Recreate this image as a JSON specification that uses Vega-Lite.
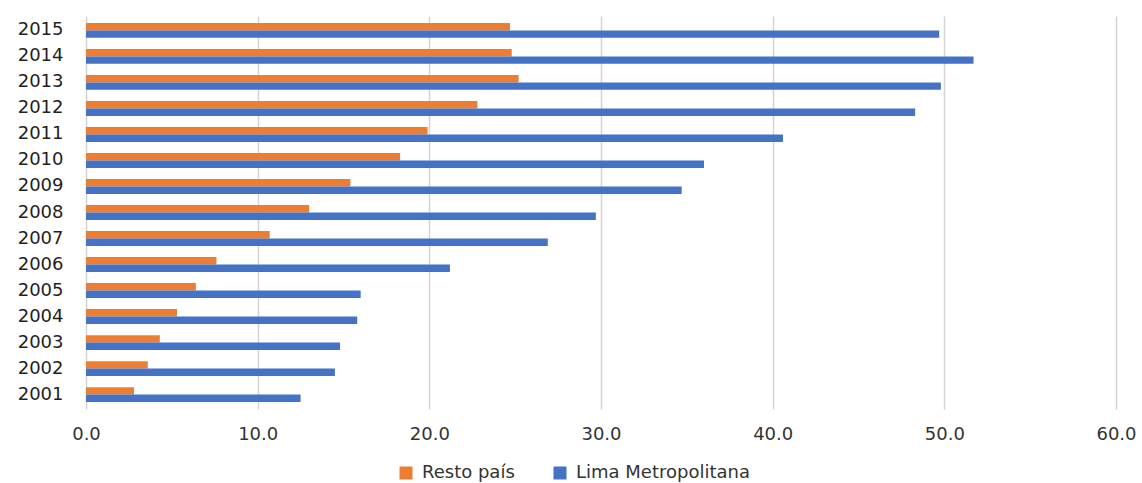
{
  "$schema": "https://vega.github.io/schema/vega-lite/v6.json",
  "autosize": "none",
  "width": 1030,
  "height": 393,
  "padding": {"left": 86, "top": 16, "right": 26, "bottom": 74},
  "background": "white",
  "config": {
    "view": {"stroke": null},
    "font": "DejaVu Sans"
  },
  "data": {
    "values": [
      {"anio": 2001, "serie": "Resto país", "valor": 2.8},
      {"anio": 2002, "serie": "Resto país", "valor": 3.6},
      {"anio": 2003, "serie": "Resto país", "valor": 4.3},
      {"anio": 2004, "serie": "Resto país", "valor": 5.3},
      {"anio": 2005, "serie": "Resto país", "valor": 6.4},
      {"anio": 2006, "serie": "Resto país", "valor": 7.6},
      {"anio": 2007, "serie": "Resto país", "valor": 10.7},
      {"anio": 2008, "serie": "Resto país", "valor": 13.0},
      {"anio": 2009, "serie": "Resto país", "valor": 15.4},
      {"anio": 2010, "serie": "Resto país", "valor": 18.3},
      {"anio": 2011, "serie": "Resto país", "valor": 19.9},
      {"anio": 2012, "serie": "Resto país", "valor": 22.8},
      {"anio": 2013, "serie": "Resto país", "valor": 25.2},
      {"anio": 2014, "serie": "Resto país", "valor": 24.8},
      {"anio": 2015, "serie": "Resto país", "valor": 24.7},
      {"anio": 2001, "serie": "Lima Metropolitana", "valor": 12.5},
      {"anio": 2002, "serie": "Lima Metropolitana", "valor": 14.5},
      {"anio": 2003, "serie": "Lima Metropolitana", "valor": 14.8},
      {"anio": 2004, "serie": "Lima Metropolitana", "valor": 15.8},
      {"anio": 2005, "serie": "Lima Metropolitana", "valor": 16.0},
      {"anio": 2006, "serie": "Lima Metropolitana", "valor": 21.2},
      {"anio": 2007, "serie": "Lima Metropolitana", "valor": 26.9},
      {"anio": 2008, "serie": "Lima Metropolitana", "valor": 29.7},
      {"anio": 2009, "serie": "Lima Metropolitana", "valor": 34.7},
      {"anio": 2010, "serie": "Lima Metropolitana", "valor": 36.0},
      {"anio": 2011, "serie": "Lima Metropolitana", "valor": 40.6},
      {"anio": 2012, "serie": "Lima Metropolitana", "valor": 48.3},
      {"anio": 2013, "serie": "Lima Metropolitana", "valor": 49.8},
      {"anio": 2014, "serie": "Lima Metropolitana", "valor": 51.7},
      {"anio": 2015, "serie": "Lima Metropolitana", "valor": 49.7}
    ]
  },
  "mark": {"type": "bar"},
  "encoding": {
    "y": {
      "field": "anio",
      "type": "ordinal",
      "sort": "descending",
      "scale": {"paddingInner": 0.43, "paddingOuter": 0.27},
      "axis": {
        "title": null,
        "domain": false,
        "ticks": false,
        "grid": false,
        "labelFont": "DejaVu Sans",
        "labelFontSize": 18,
        "labelColor": "#1f1f1f",
        "labelPadding": 23
      }
    },
    "x": {
      "field": "valor",
      "type": "quantitative",
      "scale": {"domain": [0, 60], "nice": false},
      "axis": {
        "title": null,
        "values": [0, 10, 20, 30, 40, 50, 60],
        "format": ".1f",
        "domain": false,
        "ticks": false,
        "grid": true,
        "gridColor": "#d4d4d4",
        "gridWidth": 1.5,
        "labelFont": "DejaVu Sans",
        "labelFontSize": 18,
        "labelColor": "#333333",
        "labelPadding": 16,
        "labelFlush": false
      }
    },
    "yOffset": {
      "field": "serie",
      "type": "nominal",
      "sort": ["Resto país", "Lima Metropolitana"]
    },
    "color": {
      "field": "serie",
      "type": "nominal",
      "sort": ["Resto país", "Lima Metropolitana"],
      "scale": {
        "domain": ["Resto país", "Lima Metropolitana"],
        "range": ["#ED7D31", "#4472C4"]
      },
      "legend": {
        "title": null,
        "orient": "none",
        "direction": "horizontal",
        "legendX": 311,
        "legendY": 448,
        "symbolType": "square",
        "symbolSize": 169,
        "symbolStrokeWidth": 0,
        "labelFont": "DejaVu Sans",
        "labelFontSize": 18,
        "labelColor": "#333333",
        "labelOffset": 7,
        "labelLimit": 400,
        "columnPadding": 36
      }
    }
  }
}
